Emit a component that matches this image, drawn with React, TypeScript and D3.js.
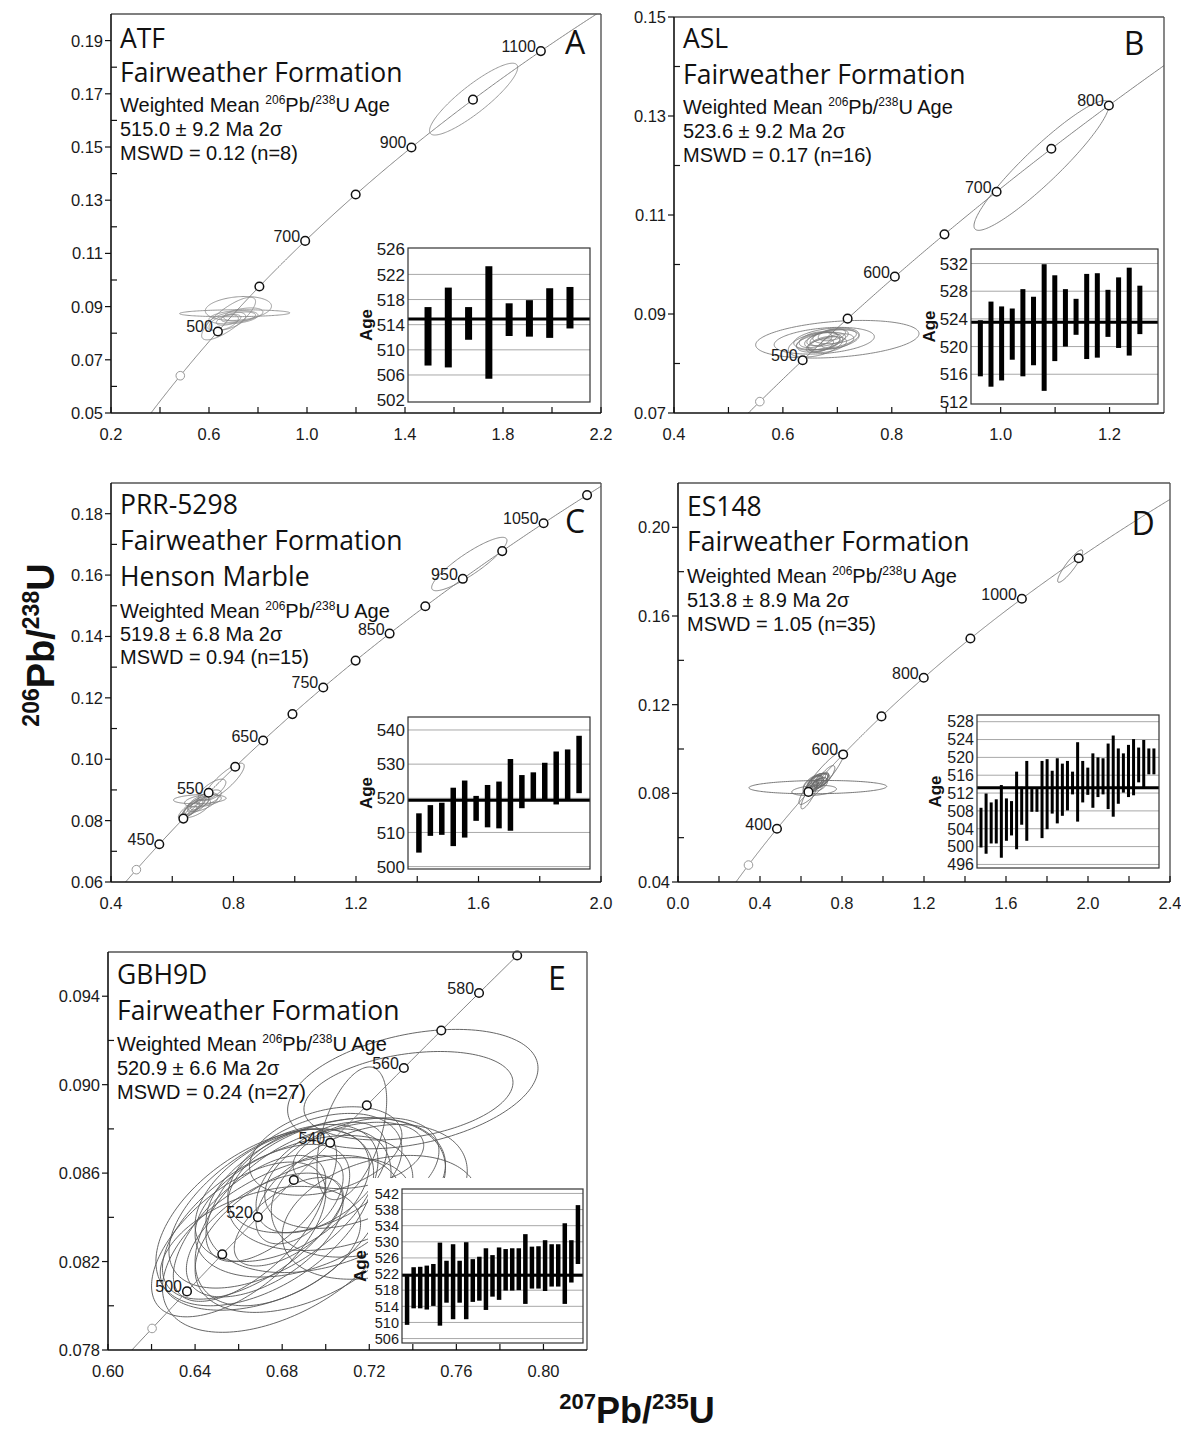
import React from 'react'
import * as d3 from 'd3'

type Ellipse = [number, number, number, number, number] // cx, cy, x half-extent, y half-extent, rho
type Bar = [number, number] // low, high age (Ma)

// decay constants (1/Ma) used to draw the concordia reference curve
const L238 = 1.55125e-4
const L235 = 9.8485e-4
const pb206u238 = (t: number) => Math.exp(L238 * t) - 1
const pb207u235 = (t: number) => Math.exp(L235 * t) - 1

// ---------- A : ATF ----------
const atfTitle = ['ATF', 'Fairweather Formation']
const atfStats = ['515.0 ± 9.2 Ma 2σ', 'MSWD = 0.12 (n=8)']
const atfMarks = [400, 500, 600, 700, 800, 900, 1000, 1100]
const atfMarkLabels = [500, 700, 900, 1100]
const atfXTicks = [0.2, 0.6, 1.0, 1.4, 1.8, 2.2]
const atfYTicks = [0.05, 0.07, 0.09, 0.11, 0.13, 0.15, 0.17, 0.19]
const atfAgeTicks = [502, 506, 510, 514, 518, 522, 526]
const atfEllipses: Ellipse[] = [
  [1.68, 0.168, 0.18, 0.0135, 0.88],
  [0.705, 0.0875, 0.225, 0.0013, 0.1],
  [0.72, 0.0893, 0.135, 0.0045, 0.2],
  [0.68, 0.0855, 0.11, 0.008, 0.8],
  [0.67, 0.0845, 0.08, 0.0035, 0.5],
  [0.70, 0.086, 0.10, 0.0025, 0.3],
  [0.66, 0.084, 0.06, 0.003, 0.5],
  [0.72, 0.086, 0.07, 0.002, 0.4],
  [0.68, 0.085, 0.05, 0.002, 0.5],
  [0.74, 0.087, 0.08, 0.0025, 0.4],
]
const atfBars: Bar[] = [
  [507.5, 516.8], [507.2, 519.9], [511.6, 516.8], [505.4, 523.3],
  [512.2, 517.4], [512.1, 517.9], [511.9, 519.8], [513.4, 520.0],
]
const atfMean = 514.9

// ---------- B : ASL ----------
const aslTitle = ['ASL', 'Fairweather Formation']
const aslStats = ['523.6 ± 9.2 Ma 2σ', 'MSWD = 0.17 (n=16)']
const aslMarks = [450, 500, 550, 600, 650, 700, 750, 800]
const aslMarkLabels = [500, 600, 700, 800]
const aslXTicks = [0.4, 0.6, 0.8, 1.0, 1.2]
const aslYTicks = [0.07, 0.09, 0.11, 0.13, 0.15]
const aslAgeTicks = [512, 516, 520, 524, 528, 532]
const aslEllipses: Ellipse[] = [
  [1.075, 0.12, 0.124, 0.0131, 0.93],
  [0.70, 0.0849, 0.15, 0.0038, 0.3],
  [0.676, 0.0846, 0.092, 0.0027, 0.3],
  [0.68, 0.085, 0.06, 0.0022, 0.4],
  [0.67, 0.0845, 0.045, 0.0018, 0.5],
  [0.665, 0.0843, 0.04, 0.002, 0.4],
  [0.685, 0.0852, 0.035, 0.0017, 0.5],
  [0.69, 0.0848, 0.05, 0.002, 0.4],
  [0.675, 0.084, 0.03, 0.0015, 0.5],
  [0.66, 0.0848, 0.03, 0.0016, 0.4],
  [0.695, 0.0855, 0.04, 0.0015, 0.3],
  [0.672, 0.085, 0.028, 0.0014, 0.5],
  [0.682, 0.0838, 0.035, 0.0016, 0.4],
  [0.70, 0.0845, 0.03, 0.0015, 0.4],
  [0.668, 0.0836, 0.025, 0.0014, 0.5],
  [0.69, 0.0858, 0.025, 0.0012, 0.4],
  [0.66, 0.0838, 0.05, 0.0025, 0.4],
]
const aslBars: Bar[] = [
  [515.7, 523.8], [514.2, 526.5], [515.1, 525.8], [518.1, 525.5],
  [515.7, 528.3], [517.3, 527.2], [513.6, 531.9], [517.9, 530.3],
  [520.0, 528.3], [521.7, 526.9], [518.2, 530.5], [518.4, 530.6],
  [521.4, 528.2], [519.8, 530.0], [518.7, 531.4], [521.8, 528.8],
]
const aslMean = 523.5

// ---------- C : PRR-5298 ----------
const prrTitle = ['PRR-5298', 'Fairweather Formation', 'Henson Marble']
const prrStats = ['519.8 ± 6.8 Ma 2σ', 'MSWD = 0.94 (n=15)']
const prrMarks = [400, 450, 500, 550, 600, 650, 700, 750, 800, 850, 900, 950, 1000, 1050, 1100]
const prrMarkLabels = [450, 550, 650, 750, 850, 950, 1050]
const prrXTicks = [0.4, 0.8, 1.2, 1.6, 2.0]
const prrYTicks = [0.06, 0.08, 0.10, 0.12, 0.14, 0.16, 0.18]
const prrAgeTicks = [500, 510, 520, 530, 540]
const prrEllipses: Ellipse[] = [
  [1.57, 0.1636, 0.123, 0.0087, 0.88],
  [0.77, 0.0927, 0.065, 0.006, 0.85],
  [0.69, 0.087, 0.086, 0.0015, 0.2],
  [0.73, 0.09, 0.045, 0.0035, 0.7],
  [0.70, 0.086, 0.05, 0.003, 0.6],
  [0.68, 0.085, 0.04, 0.003, 0.75],
  [0.67, 0.0845, 0.035, 0.0025, 0.8],
  [0.68, 0.084, 0.045, 0.003, 0.7],
  [0.66, 0.0835, 0.03, 0.0025, 0.8],
  [0.69, 0.0855, 0.03, 0.002, 0.7],
  [0.675, 0.0848, 0.025, 0.002, 0.8],
  [0.72, 0.0875, 0.04, 0.0025, 0.6],
  [0.665, 0.0842, 0.045, 0.0035, 0.85],
  [0.70, 0.0865, 0.06, 0.002, 0.4],
  [0.66, 0.083, 0.02, 0.0018, 0.8],
]
const prrBars: Bar[] = [
  [504.1, 515.6], [509.0, 518.0], [509.3, 518.7], [506.0, 523.1], [508.5, 525.2],
  [513.4, 520.7], [511.5, 523.9], [511.2, 524.9], [510.5, 531.5], [517.1, 526.8],
  [519.2, 527.6], [519.7, 530.4], [518.2, 533.7], [519.7, 534.3], [521.5, 538.3],
]
const prrMean = 519.4

// ---------- D : ES148 ----------
const esTitle = ['ES148', 'Fairweather Formation']
const esStats = ['513.8 ± 8.9 Ma 2σ', 'MSWD = 1.05 (n=35)']
const esMarks = [300, 400, 500, 600, 700, 800, 900, 1000, 1100]
const esMarkLabels = [400, 600, 800, 1000]
const esXTicks = [0.0, 0.4, 0.8, 1.2, 1.6, 2.0, 2.4]
const esYTicks = [0.04, 0.08, 0.12, 0.16, 0.20]
const esAgeTicks = [496, 500, 504, 508, 512, 516, 520, 524, 528]
const esEllipses: Ellipse[] = [
  [1.913, 0.1825, 0.061, 0.0073, 0.9],
  [0.682, 0.0828, 0.336, 0.003, 0.1],
  [0.70, 0.087, 0.11, 0.012, 0.92],
  [0.664, 0.0813, 0.109, 0.0023, 0.3],
  [0.64, 0.079, 0.04, 0.006, 0.85],
  [0.672, 0.085, 0.06, 0.004, 0.6],
  [0.68, 0.0855, 0.05, 0.0035, 0.6],
  [0.69, 0.086, 0.045, 0.003, 0.7],
  [0.665, 0.0845, 0.04, 0.0035, 0.7],
  [0.66, 0.084, 0.05, 0.004, 0.6],
  [0.70, 0.0858, 0.04, 0.003, 0.6],
  [0.675, 0.0838, 0.035, 0.003, 0.7],
  [0.685, 0.0865, 0.035, 0.0025, 0.6],
  [0.655, 0.0832, 0.03, 0.003, 0.7],
  [0.695, 0.0848, 0.03, 0.0025, 0.6],
  [0.668, 0.0855, 0.03, 0.0025, 0.6],
  [0.705, 0.087, 0.03, 0.0025, 0.6],
  [0.65, 0.0825, 0.035, 0.003, 0.7],
  [0.678, 0.0845, 0.025, 0.002, 0.7],
  [0.69, 0.084, 0.04, 0.003, 0.5],
  [0.72, 0.0875, 0.045, 0.005, 0.8],
]
const esBars: Bar[] = [
  [499.8, 508.7], [498.4, 511.9], [500.7, 509.9], [500.7, 510.6], [497.5, 513.8],
  [501.3, 510.8], [502.5, 510.2], [499.4, 516.8], [504.9, 513.4], [501.3, 519.2],
  [507.8, 512.9], [507.8, 512.9], [501.9, 519.2], [503.9, 519.6], [507.4, 517.0],
  [505.2, 519.8], [506.9, 518.6], [508.1, 519.2], [511.7, 516.8], [505.6, 523.4],
  [509.9, 519.2], [511.6, 517.7], [508.7, 520.9], [511.1, 520.0], [511.7, 519.8],
  [508.4, 523.1], [506.7, 524.9], [509.6, 522.0], [512.1, 520.9], [511.1, 522.8],
  [511.5, 524.1], [514.4, 522.2], [513.2, 523.9], [516.2, 522.0], [516.2, 522.0],
]
const esMean = 513.2

// ---------- E : GBH9D ----------
const gbhTitle = ['GBH9D', 'Fairweather Formation']
const gbhStats = ['520.9 ± 6.6 Ma 2σ', 'MSWD = 0.24 (n=27)']
const gbhMarks = [490, 500, 510, 520, 530, 540, 550, 560, 570, 580, 590]
const gbhMarkLabels = [500, 520, 540, 560, 580]
const gbhXTicks = [0.60, 0.64, 0.68, 0.72, 0.76, 0.80]
const gbhYTicks = [0.078, 0.082, 0.086, 0.090, 0.094]
const gbhAgeTicks = [506, 510, 514, 518, 522, 526, 530, 534, 538, 542]
const gbhEllipses: Ellipse[] = [
  [0.74, 0.0898, 0.0575, 0.0027, 0.35],
  [0.738, 0.0895, 0.048, 0.002, 0.3],
  [0.712, 0.0878, 0.016, 0.003, 0.5],
  [0.676, 0.0845, 0.048, 0.0037, 0.55],
  [0.672, 0.084, 0.05, 0.004, 0.5],
  [0.668, 0.0838, 0.043, 0.0035, 0.6],
  [0.68, 0.085, 0.04, 0.003, 0.45],
  [0.69, 0.0845, 0.05, 0.0032, 0.4],
  [0.70, 0.085, 0.055, 0.0035, 0.35],
  [0.705, 0.0855, 0.05, 0.003, 0.3],
  [0.665, 0.0835, 0.035, 0.0033, 0.65],
  [0.66, 0.083, 0.04, 0.0035, 0.6],
  [0.685, 0.084, 0.045, 0.004, 0.5],
  [0.695, 0.086, 0.04, 0.0027, 0.4],
  [0.675, 0.085, 0.03, 0.003, 0.6],
  [0.672, 0.0832, 0.036, 0.0028, 0.55],
  [0.683, 0.0838, 0.025, 0.002, 0.6],
  [0.698, 0.0858, 0.03, 0.0025, 0.5],
  [0.712, 0.086, 0.04, 0.0025, 0.4],
  [0.72, 0.0852, 0.045, 0.003, 0.3],
  [0.725, 0.084, 0.045, 0.0028, 0.3],
  [0.69, 0.0832, 0.05, 0.0035, 0.45],
  [0.68, 0.0828, 0.055, 0.004, 0.5],
  [0.67, 0.0826, 0.046, 0.0028, 0.4],
  [0.70, 0.087, 0.035, 0.002, 0.35],
  [0.715, 0.0868, 0.03, 0.0015, 0.3],
  [0.688, 0.0848, 0.02, 0.002, 0.5],
]
const gbhBars: Bar[] = [
  [509.4, 521.5], [513.5, 523.7], [513.5, 523.8], [513.2, 524.1], [514.1, 524.5],
  [509.2, 529.8], [514.9, 525.3], [510.8, 529.4], [514.9, 525.3], [510.8, 529.9],
  [515.1, 525.7], [515.4, 526.3], [513.1, 528.4], [516.4, 526.7], [515.6, 528.6],
  [517.9, 528.2], [517.9, 528.4], [518.0, 528.4], [514.6, 531.9], [518.4, 528.8],
  [518.4, 528.9], [517.8, 530.4], [518.9, 529.4], [518.9, 529.4], [514.6, 534.6],
  [519.9, 530.4], [524.5, 539.1],
]
const gbhMean = 521.7

// ---------- layout ----------
const panels = [
  {
    key: 'A', frame: { l: 111, r: 601, t: 14, b: 413 }, xDomain: [0.2, 2.2], yDomain: [0.05, 0.2],
    xFmt: '.1f', yFmt: '.2f', xTicks: atfXTicks, yTicks: atfYTicks,
    marks: atfMarks, markLabels: atfMarkLabels, ellipses: atfEllipses, ellColor: '#8c8c8c',
    title: atfTitle, titleBase: [48, 82], stats: atfStats, statsBase: [112, 136, 160], letterX: 575, letterBase: 54,
    inset: { l: 408, r: 590, t: 248, b: 402 }, ageDomain: [501.7, 526.2], ageTicks: atfAgeTicks,
    bars: atfBars, mean: atfMean, pad: [0.11, 0.11], barW: 7, bgPad: [30, 2], ageFont: 17,
  },
  {
    key: 'B', frame: { l: 674, r: 1164, t: 17, b: 413 }, xDomain: [0.4, 1.3], yDomain: [0.07, 0.15],
    xFmt: '.1f', yFmt: '.2f', xTicks: aslXTicks, yTicks: aslYTicks,
    marks: aslMarks, markLabels: aslMarkLabels, ellipses: aslEllipses, ellColor: '#7a7a7a',
    title: aslTitle, titleBase: [48, 84], stats: aslStats, statsBase: [114, 138, 162], letterX: 1134, letterBase: 55,
    inset: { l: 971, r: 1158, t: 249, b: 404 }, ageDomain: [511.7, 534.1], ageTicks: aslAgeTicks,
    bars: aslBars, mean: aslMean, pad: [0.05, 0.097], barW: 5, bgPad: [30, 2], ageFont: 17,
  },
  {
    key: 'C', frame: { l: 111, r: 601, t: 483, b: 882 }, xDomain: [0.4, 2.0], yDomain: [0.06, 0.19],
    xFmt: '.1f', yFmt: '.2f', xTicks: prrXTicks, yTicks: prrYTicks,
    marks: prrMarks, markLabels: prrMarkLabels, ellipses: prrEllipses, ellColor: '#7a7a7a',
    title: prrTitle, titleBase: [514, 550, 586], stats: prrStats, statsBase: [618, 641, 664], letterX: 575, letterBase: 533,
    inset: { l: 408, r: 590, t: 717, b: 869 }, ageDomain: [499.3, 543.8], ageTicks: prrAgeTicks,
    bars: prrBars, mean: prrMean, pad: [0.06, 0.06], barW: 5.5, bgPad: [30, 2], ageFont: 17,
  },
  {
    key: 'D', frame: { l: 678, r: 1170, t: 483, b: 882 }, xDomain: [0, 2.4], yDomain: [0.04, 0.22],
    xFmt: '.1f', yFmt: '.2f', xTicks: esXTicks, yTicks: esYTicks,
    marks: esMarks, markLabels: esMarkLabels, ellipses: esEllipses, ellColor: '#6a6a6a',
    title: esTitle, titleBase: [516, 551], stats: esStats, statsBase: [583, 607, 631], letterX: 1143, letterBase: 535,
    inset: { l: 977, r: 1159, t: 715, b: 868 }, ageDomain: [495.2, 529.5], ageTicks: esAgeTicks,
    bars: esBars, mean: esMean, pad: [0.022, 0.028], barW: 3, bgPad: [30, 2], ageFont: 16,
  },
  {
    key: 'E', frame: { l: 108, r: 587, t: 952, b: 1350 }, xDomain: [0.6, 0.82], yDomain: [0.078, 0.096],
    xFmt: '.2f', yFmt: '.3f', xTicks: gbhXTicks, yTicks: gbhYTicks,
    marks: gbhMarks, markLabels: gbhMarkLabels, ellipses: gbhEllipses, ellColor: '#555',
    title: gbhTitle, titleBase: [984, 1020], stats: gbhStats, statsBase: [1051, 1075, 1099], letterX: 557, letterBase: 990,
    inset: { l: 402, r: 583, t: 1189, b: 1343 }, ageDomain: [504.9, 543.1], ageTicks: gbhAgeTicks,
    bars: gbhBars, mean: gbhMean, pad: [0.028, 0.028], barW: 4.5, bgPad: [34, 11], ageFont: 14.5,
  },
]

const SANS = "'Liberation Sans', Arial, sans-serif"
const TITLE = "'Open Sans', 'Noto Sans', sans-serif"
const thetas = d3.range(0, 2 * Math.PI, Math.PI / 90)
const curveAges = d3.range(0, 4501, 2)
const midpoints = (t: number[]) => t.slice(1).map((v, i) => (v + t[i]) / 2)

const Panel = ({ p }: { p: any }) => {
  const f = p.frame
  const x = d3.scaleLinear().domain(p.xDomain).range([f.l, f.r])
  const y = d3.scaleLinear().domain(p.yDomain).range([f.b, f.t])
  const clip = `clip-${p.key}`
  const concordia = d3.line<number>()
    .x(t => x(pb207u235(t)))
    .y(t => y(pb206u238(t)))(curveAges)
  const ellipsePath = (e: Ellipse) => {
    const [cx, cy, sx, sy, r] = e
    const k = Math.sqrt(1 - r * r)
    return d3.line<number>()
      .curve(d3.curveLinearClosed)
      .x(t => x(cx + sx * Math.cos(t)))
      .y(t => y(cy + sy * (r * Math.cos(t) + k * Math.sin(t))))(thetas)
  }
  const xf = d3.format(p.xFmt)
  const yf = d3.format(p.yFmt)
  const xAll = [...p.xTicks, ...midpoints(p.xTicks)]
  const yMinor = midpoints(p.yTicks)

  const ins = p.inset
  const iw = ins.r - ins.l
  const ix = d3.scalePoint<number>()
    .domain(p.bars.map((_: Bar, i: number) => i))
    .range([ins.l + p.pad[0] * iw, ins.r - p.pad[1] * iw])
  const iy = d3.scaleLinear().domain(p.ageDomain).range([ins.b, ins.t])
  const [a0, a1] = p.ageDomain
  const firstMark = p.marks[0]

  return (
    <g>
      <defs>
        <clipPath id={clip}>
          <rect x={f.l} y={f.t} width={f.r - f.l} height={f.b - f.t} />
        </clipPath>
      </defs>

      <g clipPath={`url(#${clip})`}>
        {p.ellipses.map((e: Ellipse, i: number) => (
          <path key={i} d={ellipsePath(e) || ''} fill="none" stroke={p.ellColor} strokeWidth={0.9} />
        ))}
        <path d={concordia || ''} fill="none" stroke="#777" strokeWidth={0.9} />
      </g>

      {p.marks.map((t: number) => {
        const cx = x(pb207u235(t))
        const cy = y(pb206u238(t))
        const faint = t === firstMark
        return (
          <g key={t}>
            <circle cx={cx} cy={cy} r={4.3} fill="#fff"
              stroke={faint ? '#999' : '#111'} strokeWidth={faint ? 1 : 1.5} />
            {p.markLabels.includes(t) && (
              <text x={cx - 5} y={cy + 1} textAnchor="end" fontSize={16} fill="#1a1a1a">{t}</text>
            )}
          </g>
        )
      })}

      {p.title.map((s: string, i: number) => (
        <text key={s} x={f.l + 9} y={p.titleBase[i]} fontFamily={TITLE} fontSize={26.5} fill="#111">{s}</text>
      ))}
      <text x={f.l + 9} y={p.statsBase[0]} fontSize={20} fill="#111">
        {'Weighted Mean '}
        <tspan fontSize={12} dy={-8}>206</tspan>
        <tspan fontSize={20} dy={8}>Pb/</tspan>
        <tspan fontSize={12} dy={-8}>238</tspan>
        <tspan fontSize={20} dy={8}>U Age</tspan>
      </text>
      {p.stats.map((s: string, i: number) => (
        <text key={s} x={f.l + 9} y={p.statsBase[i + 1]} fontSize={20} fill="#111">{s}</text>
      ))}
      <text x={p.letterX} y={p.letterBase} textAnchor="middle" fontFamily={TITLE} fontSize={32} fill="#111">{p.key}</text>

      {/* inset: individual 206Pb/238U ages */}
      <g>
        <rect x={ins.l - p.bgPad[0]} y={ins.t - p.bgPad[1]} width={iw + p.bgPad[0] + 2}
          height={ins.b - ins.t + p.bgPad[1] + 2} fill="#fff" />
        {p.ageTicks.filter((v: number) => v > a0 + 0.3 && v < a1 - 0.3).map((v: number) => (
          <line key={v} x1={ins.l} x2={ins.r} y1={iy(v)} y2={iy(v)} stroke="#a8a8a8" strokeWidth={1} />
        ))}
        {p.bars.map((b: Bar, i: number) => (
          <rect key={i} x={(ix(i) as number) - p.barW / 2} y={iy(b[1])} width={p.barW}
            height={iy(b[0]) - iy(b[1])} fill="#000" />
        ))}
        <line x1={ins.l} x2={ins.r} y1={iy(p.mean)} y2={iy(p.mean)} stroke="#000" strokeWidth={3} />
        <rect x={ins.l} y={ins.t} width={iw} height={ins.b - ins.t} fill="none" stroke="#333" strokeWidth={1.2} />
        {p.ageTicks.map((v: number) => (
          <text key={v} x={ins.l - 3} y={iy(v) + p.ageFont * 0.36} textAnchor="end" fontSize={p.ageFont}
            fill="#1a1a1a">{v}</text>
        ))}
        <text transform={`translate(${ins.l - 36},${(ins.t + ins.b) / 2}) rotate(-90)`} textAnchor="middle"
          fontSize={17} fontWeight="bold" fill="#111">Age</text>
      </g>

      {/* frame and ticks */}
      <line x1={f.l} x2={f.r} y1={f.t} y2={f.t} stroke="#555" strokeWidth={1.4} />
      <line x1={f.r} x2={f.r} y1={f.t} y2={f.b} stroke="#555" strokeWidth={1.4} />
      <line x1={f.l} x2={f.r} y1={f.b} y2={f.b} stroke="#111" strokeWidth={1.6} />
      <line x1={f.l} x2={f.l} y1={f.t} y2={f.b} stroke="#111" strokeWidth={1.6} />
      {xAll.map((v: number) => (
        <line key={`x${v}`} x1={x(v)} x2={x(v)} y1={f.b} y2={f.b - 6} stroke="#111" strokeWidth={1.2} />
      ))}
      {p.yTicks.map((v: number) => (
        <line key={`y${v}`} x1={f.l - 6} x2={f.l} y1={y(v)} y2={y(v)} stroke="#111" strokeWidth={1.2} />
      ))}
      {yMinor.map((v: number) => (
        <line key={`ym${v}`} x1={f.l} x2={f.l + 6} y1={y(v)} y2={y(v)} stroke="#111" strokeWidth={1.2} />
      ))}
      {p.xTicks.map((v: number) => (
        <text key={`xl${v}`} x={x(v)} y={f.b + 27} textAnchor="middle" fontSize={16.5} fill="#1a1a1a">{xf(v)}</text>
      ))}
      {p.yTicks.map((v: number) => (
        <text key={`yl${v}`} x={f.l - 8} y={y(v) + 6} textAnchor="end" fontSize={16.5} fill="#1a1a1a">{yf(v)}</text>
      ))}
    </g>
  )
}

export default function App() {
  return (
    <svg width={1181} height={1434} style={{ position: 'absolute', left: 0, top: 0, background: '#fff' }}
      fontFamily={SANS}>
      <rect width={1181} height={1434} fill="#fff" />
      {panels.map(p => <Panel key={p.key} p={p} />)}
      <text transform="translate(54,645) rotate(-90)" textAnchor="middle" fontSize={38} fontWeight="bold" fill="#111">
        <tspan fontSize={23} dy={-15}>206</tspan>
        <tspan dy={15}>Pb/</tspan>
        <tspan fontSize={23} dy={-15}>238</tspan>
        <tspan dy={15}>U</tspan>
      </text>
      <text x={637} y={1423} textAnchor="middle" fontSize={36} fontWeight="bold" fill="#111">
        <tspan fontSize={22} dy={-14}>207</tspan>
        <tspan dy={14}>Pb/</tspan>
        <tspan fontSize={22} dy={-14}>235</tspan>
        <tspan dy={14}>U</tspan>
      </text>
    </svg>
  )
}
